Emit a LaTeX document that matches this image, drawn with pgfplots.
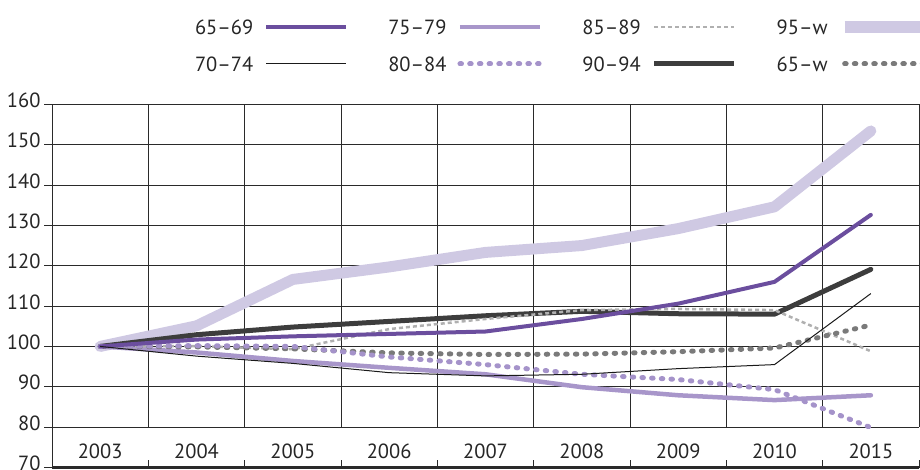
\documentclass[border=0pt]{standalone}
\usepackage{pgfplots}
\pgfplotsset{compat=1.18}
\usepackage{fontspec}
\setmainfont{PT Sans}
\definecolor{c6569}{HTML}{6B4E9E}
\definecolor{c7579}{HTML}{A896CA}
\definecolor{c8084}{HTML}{A593CA}
\definecolor{c8589}{HTML}{B0B0B0}
\definecolor{c9094}{HTML}{3D3D3D}
\definecolor{c95w}{HTML}{CFC9E3}
\definecolor{c65w}{HTML}{7A7A7A}
\definecolor{c7074}{HTML}{1A1A1A}
\definecolor{gridc}{HTML}{2A2A2A}
\tikzset{
  s6569/.style={c6569, line width=4pt, line join=round},
  s7074/.style={c7074, line width=1pt, line join=round},
  s7579/.style={c7579, line width=4.5pt, line join=round},
  s8084/.style={c8084, line width=5pt, line cap=round, dash pattern=on 1.5pt off 8.2pt},
  s8589/.style={c8589, line width=2.5pt, dash pattern=on 4pt off 3pt},
  s9094/.style={c9094, line width=5pt, line join=round},
  s95w/.style={c95w, line width=11pt, line join=round},
  s65w/.style={c65w, line width=5pt, line cap=round, dash pattern=on 1.5pt off 8.2pt},
}
\begin{document}
\begin{tikzpicture}
\begin{axis}[
  at={(52pt,1.5pt)}, anchor=south west,
  scale only axis, width=867pt, height=363.2pt,
  xmin=0, xmax=9, ymin=70, ymax=160,
  clip=false,
  axis lines=left,
  axis line style={-},
  x axis line style={line width=2.5pt, gridc},
  y axis line style={line width=0.8pt, gridc},
  ytick={70,80,...,160},
  ymajorgrids,
  grid style={gridc, line width=0.8pt},
  tick align=outside,
  major tick length=8pt,
  ytick style={gridc, line width=0.8pt},
  xtick={0.5,1.5,...,8.5},
  xticklabels={2003,2004,2005,2006,2007,2008,2009,2010,2015},
  xtick style={draw=none},
  tick label style={font=\fontsize{20.5}{24}\selectfont, text=black!85},
  /pgf/number format/assume math mode=true,
  yticklabel style={yshift=4pt},
  xticklabel style={anchor=center, yshift=24pt},
  legend plot pos=right,
  legend columns=4,
  legend image code/.code={\draw[#1] (0pt,0pt) -- (80pt,0pt);},
  legend style={
    at={(axis description cs:0.1650,1.2328)}, anchor=north west,
    draw=none, fill=none, inner sep=0pt, outer sep=0pt,
    font=\fontsize{20.5}{24}\selectfont,
    text=black!85,
    row sep=22.5pt,
    cells={anchor=east},
    nodes={inner sep=0pt, text height=14.5pt, text depth=0pt},
    /tikz/every odd column/.append style={column sep=11pt},
    /tikz/every even column/.append style={column sep=40pt},
  },
]
\pgfplotsinvokeforeach{1,...,9}{
  \draw[gridc, line width=0.8pt] (axis cs:#1,80) -- (axis cs:#1,160);
  \draw[gridc, line width=0.8pt] (axis cs:#1,70) -- (axis cs:#1,71.8);
}
\addplot[s95w, line cap=round, forget plot] coordinates {(0.5,100) (1.5,105.1) (2.5,116.6) (3.5,119.7) (4.5,123.3) (5.5,125.0) (6.5,129.2) (7.5,134.6) (8.5,153.4)};
\addplot[s7579, line cap=round, forget plot] coordinates {(0.5,100) (1.5,98.5) (2.5,96.4) (3.5,94.7) (4.5,93.1) (5.5,89.9) (6.5,87.9) (7.5,86.7) (8.5,87.9)};
\addplot[s9094, line cap=round, forget plot] coordinates {(0.5,100) (1.5,102.9) (2.5,104.8) (3.5,106.2) (4.5,107.6) (5.5,108.7) (6.5,108.1) (7.5,108.0) (8.5,119.1)};
\addplot[s8589, forget plot] coordinates {(0.5,100) (1.5,100.1) (2.5,99.3) (3.5,104.3) (4.5,106.8) (5.5,109.0) (6.5,109.3) (7.5,109.0) (8.5,98.8)};
\addplot[s65w, forget plot] coordinates {(0.5,100) (1.5,99.9) (2.5,99.4) (3.5,98.4) (4.5,98.0) (5.5,98.1) (6.5,98.7) (7.5,99.6) (8.5,105.3)};
\addplot[s8084, forget plot] coordinates {(0.5,100) (1.5,100.2) (2.5,100.0) (3.5,97.4) (4.5,95.5) (5.5,93.1) (6.5,91.8) (7.5,89.3) (8.5,79.9)};
\addplot[s6569, line cap=round, forget plot] coordinates {(0.5,100) (1.5,101.7) (2.5,102.5) (3.5,103.1) (4.5,103.7) (5.5,106.8) (6.5,110.6) (7.5,116.0) (8.5,132.6)};
\addplot[s7074, forget plot] coordinates {(0.5,100) (1.5,97.6) (2.5,95.8) (3.5,93.5) (4.5,92.7) (5.5,93.1) (6.5,94.5) (7.5,95.5) (8.5,113.1)};
\addlegendimage{s6569}\addlegendentry{65–69}
\addlegendimage{s7579}\addlegendentry{75–79}
\addlegendimage{s8589}\addlegendentry{85–89}
\addlegendimage{s95w, line width=12pt}\addlegendentry{95–w}
\addlegendimage{s7074}\addlegendentry{70–74}
\addlegendimage{s8084}\addlegendentry{80–84}
\addlegendimage{s9094}\addlegendentry{90–94}
\addlegendimage{s65w}\addlegendentry{65–w}
\end{axis}
\pgfresetboundingbox
\useasboundingbox (0,0) rectangle (920pt,469pt);
\end{tikzpicture}
\end{document}
